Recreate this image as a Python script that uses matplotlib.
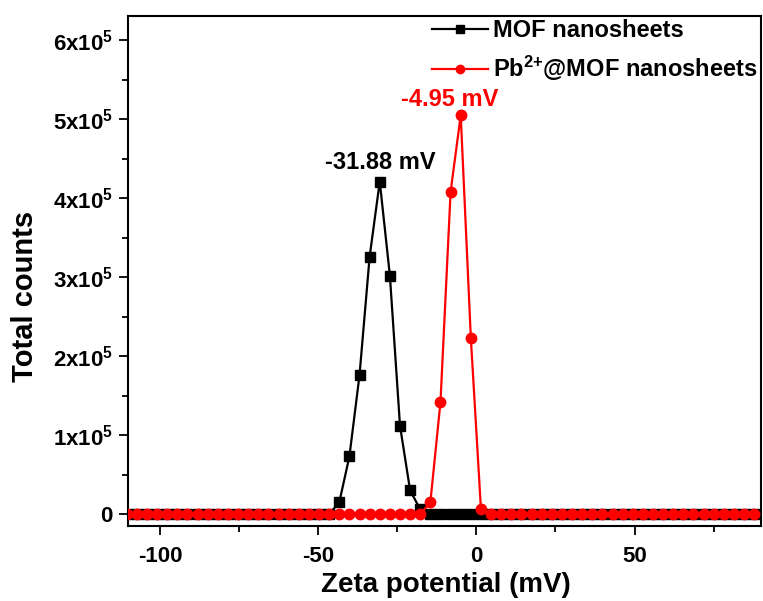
import matplotlib
matplotlib.use("Agg")
import matplotlib.pyplot as plt
from matplotlib.ticker import MultipleLocator, FuncFormatter

plt.rcParams['font.family'] = ['Liberation Sans', 'DejaVu Sans']
plt.rcParams['font.weight'] = 'bold'
plt.rcParams['mathtext.fontset'] = 'custom'
plt.rcParams['mathtext.rm'] = 'Liberation Sans:bold'
plt.rcParams['mathtext.bf'] = 'Liberation Sans:bold'
plt.rcParams['mathtext.default'] = 'rm'
plt.rcParams['axes.unicode_minus'] = False

# zeta potential grid (mV), shared by both measurements
zeta = [-110.55, -107.35, -104.15, -100.95, -97.75, -94.55, -91.35, -88.15,
        -84.95, -81.75, -78.55, -75.35, -72.15, -68.95, -65.75, -62.55,
        -59.35, -56.15, -52.95, -49.75, -46.55, -43.35, -40.15, -36.95,
        -33.75, -30.55, -27.35, -24.15, -20.95, -17.75, -14.55, -11.35,
        -8.15, -4.95, -1.75, 1.45, 4.65, 7.85, 11.05, 14.25, 17.45, 20.65,
        23.85, 27.05, 30.25, 33.45, 36.65, 39.85, 43.05, 46.25, 49.45,
        52.65, 55.85, 59.05, 62.25, 65.45, 68.65, 71.85, 75.05, 78.25,
        81.45, 84.65, 87.85]

mof_counts = [0] * 21 + [15000, 73000, 176000, 326000, 421000, 302000,
                         112000, 30000, 6000] + [0] * 33
pb_mof_counts = [0] * 30 + [15000, 142000, 408000, 505000, 223000, 6000] + [0] * 27

labels = ['MOF nanosheets', 'Pb$^{2{+}}$@MOF nanosheets']
peak_labels = ['-31.88 mV', '-4.95 mV']

fig = plt.figure(figsize=(7.63, 6.01), dpi=100)
ax = fig.add_axes([0.1684, 0.1248, 0.829, 0.8491])

ax.plot(zeta, mof_counts, color='black', marker='s', markersize=7,
        linewidth=1.6, label=labels[0], zorder=2)
ax.plot(zeta, pb_mof_counts, color='#ff0000', marker='o', markersize=7.5,
        linewidth=1.6, label=labels[1], zorder=3)

# peak annotations
ax.text(-30.3, 421000 + 10000, peak_labels[0], ha='center', va='bottom',
        fontsize=17, fontweight='bold', color='black')
ax.text(-8.5, 505000 + 5000, peak_labels[1], ha='center', va='bottom',
        fontsize=17, fontweight='bold', color='#ff0000')

ax.set_xlim(-110, 90)
ax.set_ylim(-15000, 631000)
ax.xaxis.set_major_locator(MultipleLocator(50))
ax.xaxis.set_minor_locator(MultipleLocator(25))
ax.yaxis.set_major_locator(MultipleLocator(100000))
ax.yaxis.set_minor_locator(MultipleLocator(50000))


def fmt_y(v, pos):
    n = int(round(v / 1e5))
    if n == 0:
        return '0'
    return '%dx10$^{5}$' % n


ax.yaxis.set_major_formatter(FuncFormatter(fmt_y))
ax.tick_params(which='both', direction='out', top=False, right=False,
               labelsize=16, width=1.3)
ax.tick_params(which='major', length=6.5)
ax.tick_params(which='minor', length=4)
ax.tick_params(axis='x', which='major', pad=8)
ax.tick_params(axis='y', which='major', pad=5)
for s in ax.spines.values():
    s.set_linewidth(1.5)

ax.set_xlabel('Zeta potential (mV)', fontsize=20, fontweight='bold')
ax.xaxis.set_label_coords(0.502, -0.090)
ax.set_ylabel('Total counts', fontsize=21, fontweight='bold')
ax.yaxis.label.set_va('center')
ax.yaxis.set_label_coords(-0.1636, 0.449)

ax.legend(loc='upper right', frameon=False, fontsize=17, handlelength=2.4,
          handletextpad=0.2, labelspacing=0.5, borderaxespad=0.05,
          markerscale=0.8, borderpad=0.1)

fig.savefig('out.png', dpi=100)
